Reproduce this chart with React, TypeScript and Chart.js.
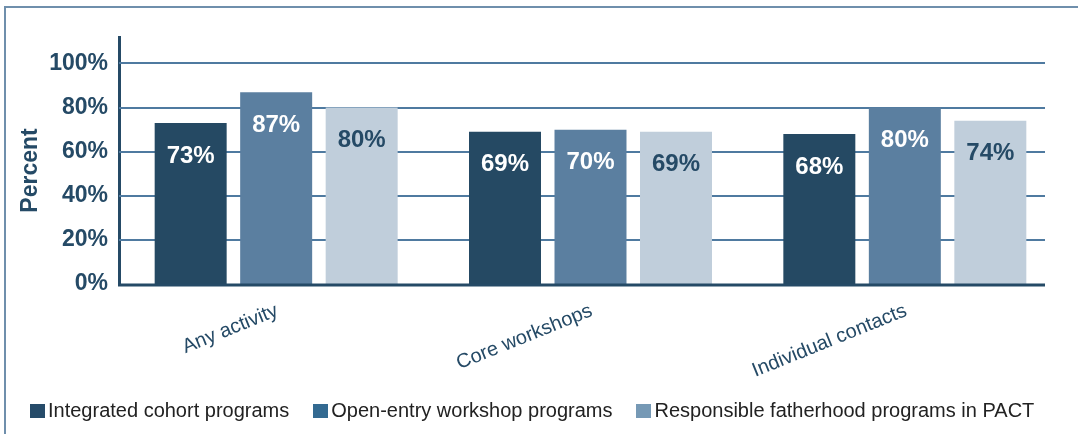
import React, { useEffect, useRef } from "react";
import { Chart, registerables } from "chart.js";

Chart.register(...registerables);

const categories = ["Any activity", "Core workshops", "Individual contacts"];
const seriesNames = [
  "Integrated cohort programs",
  "Open-entry workshop programs",
  "Responsible fatherhood programs in PACT",
];
const integratedCohort = [73, 69, 68];
const openEntry = [87, 70, 80];
const fatherhoodPact = [80, 69, 74];
const yTickValues = [0, 20, 40, 60, 80, 100];
const yTitle = "Percent";

const barColors = ["#254963", "#5b7fa0", "#c0cedb"];
const legendColors = ["#264b69", "#336a91", "#7699b5"];
const labelColors = ["#ffffff", "#ffffff", "#254a66"];
const DARK = "#254a66";
const GRID = "#4f7aa0";
const FONT = "'Liberation Sans', Arial, Helvetica, sans-serif";

const gridPlugin = {
  id: "customGrid",
  beforeDatasetsDraw(chart: any) {
    const { ctx, chartArea, scales } = chart;
    const y = scales.y;
    const right = chartArea.right - 17;
    ctx.save();
    ctx.strokeStyle = GRID;
    ctx.lineWidth = 2;
    yTickValues.forEach((v) => {
      if (v === 0) return;
      const py = Math.round(y.getPixelForValue(v));
      ctx.beginPath();
      ctx.moveTo(chartArea.left, py);
      ctx.lineTo(right, py);
      ctx.stroke();
    });
    ctx.restore();
  },
  afterDatasetsDraw(chart: any) {
    const { ctx, chartArea, scales } = chart;
    ctx.save();
    ctx.font = `bold 24px ${FONT}`;
    ctx.textAlign = "center";
    ctx.textBaseline = "middle";
    chart.data.datasets.forEach((ds: any, di: number) => {
      const meta = chart.getDatasetMeta(di);
      meta.data.forEach((el: any, i: number) => {
        ctx.fillStyle = labelColors[di];
        ctx.fillText(`${ds.data[i]}%`, el.x, el.y + 33);
      });
    });
    const y0 = scales.y.getPixelForValue(0);
    ctx.strokeStyle = DARK;
    ctx.lineWidth = 3;
    ctx.beginPath();
    ctx.moveTo(chartArea.left - 1, y0 + 1);
    ctx.lineTo(chartArea.right - 17, y0 + 1);
    ctx.stroke();
    // y-axis title, centred a little below the plot middle as in the source
    ctx.translate(31, (chartArea.top + chartArea.bottom) / 2 + 10);
    ctx.rotate(-Math.PI / 2);
    ctx.font = `bold 23px ${FONT}`;
    ctx.fillStyle = DARK;
    ctx.fillText(yTitle, 0, 0);
    ctx.restore();
  },
};

export default function App() {
  const ref = useRef<HTMLCanvasElement>(null);

  useEffect(() => {
    if (!ref.current) return;
    const chart = new Chart(ref.current, {
      type: "bar",
      data: {
        labels: categories,
        datasets: [integratedCohort, openEntry, fatherhoodPact].map((d, i) => ({
          label: seriesNames[i],
          data: d,
          backgroundColor: barColors[i],
          borderWidth: 0,
          barPercentage: 0.842,
          categoryPercentage: 0.816,
        })),
      },
      options: {
        responsive: false,
        animation: false,
        devicePixelRatio: 1,
        layout: { padding: { left: 0, right: 16, top: 37, bottom: 50 } },
        plugins: {
          legend: { display: false },
          tooltip: { enabled: false },
        },
        scales: {
          x: {
            offset: true,
            grid: { display: false, drawTicks: false },
            border: { display: false },
            ticks: {
              autoSkip: false,
              minRotation: 22,
              maxRotation: 22,
              padding: 15,
              labelOffset: 1,
              color: DARK,
              font: { family: FONT, size: 20 },
            },
            afterFit(scale: any) {
              scale.height = 100;
              scale.paddingLeft = 0;
              scale.paddingRight = 0;
            },
          },
          y: {
            min: 0,
            max: 112,
            grid: { display: false, drawTicks: false },
            border: { display: true, color: DARK, width: 3 },
            afterBuildTicks(scale: any) {
              scale.ticks = yTickValues.map((v) => ({ value: v }));
            },
            afterFit(scale: any) {
              scale.width = 119;
            },
            ticks: {
              padding: 11,
              color: DARK,
              font: { family: FONT, size: 23, weight: "bold" },
              callback: (v: any) => `${v}%`,
            },
            title: { display: false },
          },
        },
      },
      plugins: [gridPlugin],
    });
    return () => chart.destroy();
  }, []);

  return (
    <div
      style={{
        position: "fixed",
        left: 0,
        top: 0,
        width: 1078,
        height: 434,
        background: "#ffffff",
        overflow: "hidden",
        fontFamily: FONT,
      }}
    >
      <div
        style={{
          position: "absolute",
          left: 4,
          top: 6,
          width: 1100,
          height: 460,
          borderTop: "2px solid #6f8fac",
          borderLeft: "2px solid #6f8fac",
        }}
      />
      <canvas
        ref={ref}
        width={1078}
        height={434}
        style={{ position: "absolute", left: 0, top: 0, width: 1078, height: 434 }}
      />
      <div
        style={{
          position: "absolute",
          left: 30,
          top: 399,
          display: "flex",
          alignItems: "center",
          lineHeight: "23px",
          fontSize: 20,
          color: "#222222",
          whiteSpace: "nowrap",
        }}
      >
        {seriesNames.map((n, i) => (
          <div key={n} style={{ display: "flex", alignItems: "center", marginRight: 24 }}>
            <span
              style={{
                display: "inline-block",
                width: 15,
                height: 14,
                background: legendColors[i],
                marginRight: 3,
              }}
            />
            <span>{n}</span>
          </div>
        ))}
      </div>
    </div>
  );
}
